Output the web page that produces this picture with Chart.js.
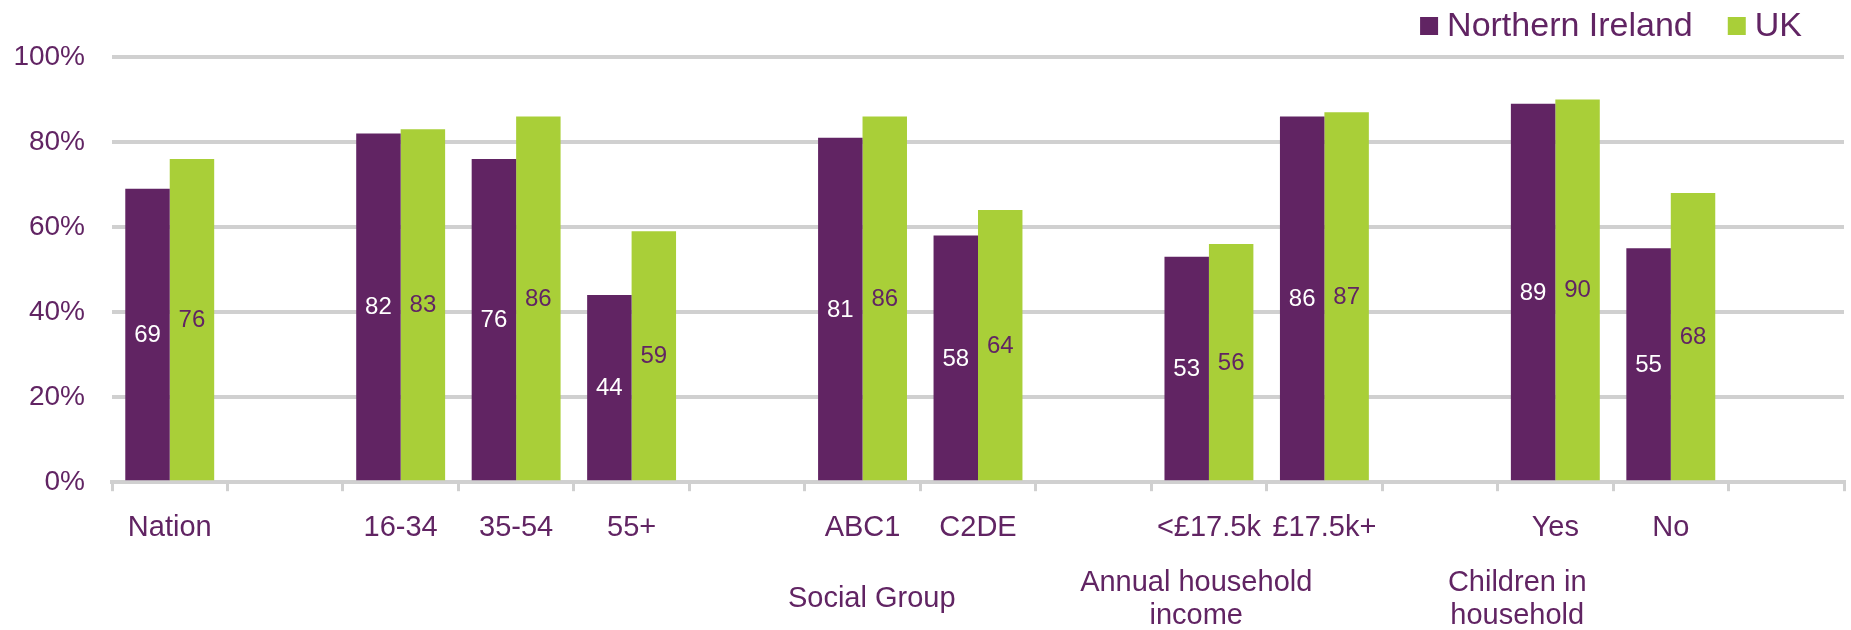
<!DOCTYPE html>
<html>
<head>
<meta charset="utf-8">
<script src="https://cdn.jsdelivr.net/npm/chart.js@4/dist/chart.umd.min.js"></script>
<style>
  html, body { margin: 0; padding: 0; background: #ffffff; }
  #chart_wrap { width: 1851px; height: 630px; }
</style>
</head>
<body>
<div id="chart_wrap"><canvas id="access_chart" width="1851" height="630"></canvas></div>
<script>
// categories along the x axis (blank ones are the gaps between groups)
const categories = ['Nation', '', '16-34', '35-54', '55+', '', 'ABC1', 'C2DE', '', '<£17.5k', '£17.5k+', '', 'Yes', 'No', '']

// percentages
const ni_values = [69, null, 82, 76, 44, null, 81, 58, null, 53, 86, null, 89, 55, null]
const uk_values = [76, null, 83, 86, 59, null, 86, 64, null, 56, 87, null, 90, 68, null]

// group captions under the tick labels, and the category slot they sit at
const group_labels      = [['Social Group'], ['Annual household', 'income'], ['Children in', 'household']]
const group_label_slots = [6.08, 8.89, 11.67]

const y_ticks = [0, 20, 40, 60, 80, 100]

const purple = '#612463'
const green  = '#a9cf38'
const text_purple = '#612463'
const grid_grey = '#d0d0d0'
const font_family = '"Liberation Sans", Arial, sans-serif'

// value labels in the middle of each bar
const bar_value_labels = {
  id: 'bar_value_labels',
  afterDatasetsDraw(chart) {
    const ctx = chart.ctx
    ctx.save()
    ctx.font = '24px ' + font_family
    ctx.textAlign = 'center'
    ctx.textBaseline = 'middle'
    chart.data.datasets.forEach((ds, di) => {
      const meta = chart.getDatasetMeta(di)
      meta.data.forEach((bar, i) => {
        if (ds.data[i] == null) return
        ctx.fillStyle = di === 0 ? '#ffffff' : text_purple
        ctx.fillText(ds.data[i], bar.x, (bar.y + bar.base) / 2 + 1)
      })
    })
    ctx.restore()
  }
}

// group captions below the category labels
const group_captions = {
  id: 'group_captions',
  afterDraw(chart) {
    const ctx = chart.ctx
    const x = chart.scales.x
    const line_h = 33
    ctx.save()
    ctx.font = '29px ' + font_family
    ctx.fillStyle = text_purple
    ctx.textAlign = 'center'
    ctx.textBaseline = 'middle'
    group_labels.forEach((lines, g) => {
      const px = x.getPixelForValue(group_label_slots[g])
      const mid = x.top + 117
      const start = mid - (lines.length - 1) * line_h / 2
      lines.forEach((line, k) => ctx.fillText(line, px, start + k * line_h))
    })
    ctx.restore()
  }
}

// legend at top right: small square then series name
const top_legend = {
  id: 'top_legend',
  afterDraw(chart) {
    const ctx = chart.ctx
    ctx.save()
    ctx.font = '34px ' + font_family
    ctx.textBaseline = 'middle'
    const box = 18
    const gap = 9
    const spacing = 35
    const cy = 26
    let right = chart.chartArea.right - 42
    const items = chart.data.datasets.slice().reverse()
    items.forEach(ds => {
      const w = ctx.measureText(ds.label).width
      const text_x = right - w
      const box_x = text_x - gap - box
      ctx.fillStyle = ds.backgroundColor
      ctx.fillRect(box_x, cy - box / 2, box, box)
      ctx.fillStyle = text_purple
      ctx.textAlign = 'left'
      ctx.fillText(ds.label, text_x, cy + 1)
      right = box_x - spacing
    })
    ctx.restore()
  }
}

const ctx = document.getElementById('access_chart').getContext('2d')

const chart = new Chart(ctx, {
  type: 'bar',
  data: {
    labels: categories,
    datasets: [
      {
        label: 'Northern Ireland',
        data: ni_values,
        backgroundColor: purple,
        categoryPercentage: 0.77,
        barPercentage: 1.0
      },
      {
        label: 'UK',
        data: uk_values,
        backgroundColor: green,
        categoryPercentage: 0.77,
        barPercentage: 1.0
      }
    ]
  },
  options: {
    responsive: false,
    animation: false,
    layout: {
      padding: { top: 57, right: 7, bottom: 66, left: 14 }
    },
    plugins: {
      legend: { display: false },
      tooltip: { enabled: false },
      title: { display: false }
    },
    scales: {
      x: {
        grid: {
          display: true,
          offset: true,
          drawOnChartArea: false,
          drawTicks: true,
          tickLength: 9,
          color: grid_grey,
          lineWidth: 3
        },
        border: { display: true, color: grid_grey, width: 4 },
        ticks: {
          color: text_purple,
          font: { family: font_family, size: 29 },
          padding: 19,
          maxRotation: 0,
          autoSkip: false
        }
      },
      y: {
        min: 0,
        max: 100,
        afterBuildTicks: axis => {
          axis.ticks = y_ticks.map(v => ({ value: v }))
        },
        afterFit: axis => {
          axis.width = 98
        },
        grid: {
          color: grid_grey,
          lineWidth: 4,
          drawTicks: false
        },
        border: { display: false },
        ticks: {
          color: text_purple,
          font: { family: font_family, size: 28 },
          padding: 27,
          callback: v => v + '%'
        }
      }
    }
  },
  plugins: [bar_value_labels, group_captions, top_legend]
})
</script>
</body>
</html>
